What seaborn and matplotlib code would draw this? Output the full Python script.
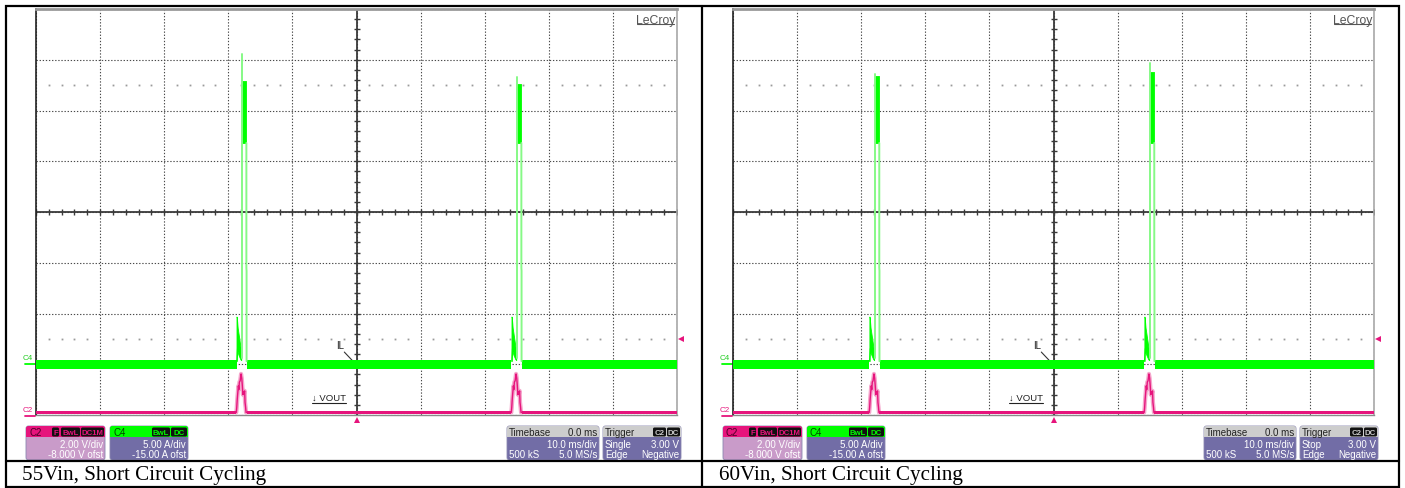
import numpy as np
import matplotlib
matplotlib.use("Agg")
import matplotlib.pyplot as plt
import matplotlib.transforms as mtransforms
from matplotlib.patches import FancyBboxPatch, Rectangle
import seaborn as sns

# ---------------- capture settings and trace values ----------------
captions = ["55Vin, Short Circuit Cycling", "60Vin, Short Circuit Cycling"]
trigger_modes = ["Single", "Stop"]

time_per_div = 10.0        # ms/div
il_per_div = 5.00          # C4, A/div
il_offset = -15.00         # C4, A
vout_per_div = 2.00        # C2, V/div
vout_offset = -8.000       # C2, V
trigger_level = 3.00       # C2, V (negative edge)
timebase_delay = "0.0 ms"
record_len = "500 kS"
sample_rate = "5.0 MS/s"

# rising edge of every hiccup pulse (ms), one list per capture
pulse_t0 = [[-17.9, 25.0], [-27.9, 15.0]]
# IL leading-edge spike and plateau top of every pulse (A)
il_peak = [[30.6, 28.3], [28.6, 29.7]]
il_top = [[27.9, 27.6], [28.4, 28.8]]
il_bottom = 21.8           # A, lower edge of the plateau

# IL floor between pulses (A, lower / upper edge of the noise band)
il_floor = (-0.42, 0.42)

# IL hump ahead of each pulse, times relative to the rising edge (ms, A)
hump_dt = [-0.82, -0.76, -0.64, -0.50, -0.36, -0.22, -0.08]
hump_lo = [0.3, 1.6, 1.2, 0.9, 0.7, 0.5, 0.4]
hump_hi = [4.7, 4.6, 3.6, 3.0, 2.4, 1.8, 1.2]

# IL plateau span and edges (ms relative to rising edge, A)
plat_dt = [0.02, 0.70]
rise_il_base = 0.6
fall_dt = [0.72, 0.72, 0.75, 0.75]
fall_il = [21.8, 9.5, 9.2, 0.3]
il_gap = (-0.82, 0.82)

# VOUT floor (V) and its bump around each pulse (ms relative to rising edge, V)
vout_floor = (0.03, 0.17)
vout_dt = [-0.85, -0.78, -0.70, -0.53, -0.45, -0.37, -0.25, -0.11, 0.00,
           0.09, 0.18, 0.25, 0.35, 0.45, 0.51, 0.60, 0.67, 0.75]
vout_v = [0.10, 0.30, 0.63, 1.15, 1.00, 1.30, 1.35, 1.62, 1.45,
          1.15, 0.80, 0.90, 0.85, 0.95, 0.50, 0.30, 0.10, 0.10]

# ---------------- styling ----------------
W, H = 1405, 489
GREEN = "#00ff00"
GREEN_EDGE = "#86f986"
MAGENTA = "#e6147c"
MAGENTA_HALO = "#f5a6cc"
GRID = "#4a4a4a"
BODY = "#726da6"
BODY_C2 = "#c99bc9"
HEAD_GRAY = "#cdcdcd"

sns.set_style("white")
plt.rcParams["font.family"] = ["Liberation Sans", "DejaVu Sans"]

fig = plt.figure(figsize=(W / 100, H / 100), dpi=100)
fig.patch.set_facecolor("white")


def rect_px(x0, y0, x1, y1):
    return [x0 / W, (H - y1) / H, (x1 - x0) / W, (y1 - y0) / H]


def draw_scope(rect, t0s, peaks, tops):
    ax = fig.add_axes(rect)
    ax2 = ax.twinx()

    x_half = 5 * time_per_div
    il_c = -il_offset
    v_c = -vout_offset
    ax.set_xlim(-x_half, x_half)
    ax.set_ylim(il_c - 4 * il_per_div, il_c + 4 * il_per_div)
    ax2.set_ylim(v_c - 4 * vout_per_div, v_c + 4 * vout_per_div)

    # graticule
    ax.set_xticks(np.arange(-x_half, x_half + 0.1, time_per_div))
    ax.set_yticks(np.arange(il_c - 4 * il_per_div, il_c + 4 * il_per_div + 0.1, il_per_div))
    ax.grid(True, color=GRID, lw=0.8, ls=(0, (1.2, 1.6)))
    ax.tick_params(length=0, labelbottom=False, labelleft=False)
    ax2.tick_params(length=0, labelright=False)
    ax2.grid(False)
    for s in ax2.spines.values():
        s.set_visible(False)
    ax.spines["left"].set(color="#222222", lw=1.2)
    ax.spines["top"].set(color="#9a9a9a", lw=2.0)
    ax.spines["right"].set(color="#a8a8a8", lw=1.2)
    ax.spines["bottom"].set(color="#8a8a8a", lw=1.0)

    ax.axhline(il_c, color="#3a3a3a", lw=1.3, zorder=1.5)
    ax.axvline(0, color="#3a3a3a", lw=1.3, zorder=1.5)
    sub_x = np.arange(-x_half, x_half + 0.1, time_per_div / 5)
    ax.plot(sub_x, np.full_like(sub_x, il_c), ls="none", marker="|", ms=5,
            mew=1.0, color="#3a3a3a", zorder=1.5)
    sub_y = np.arange(il_c - 4 * il_per_div, il_c + 4 * il_per_div + 0.01, il_per_div / 5)
    ax.plot(np.zeros_like(sub_y), sub_y, ls="none", marker="_", ms=5,
            mew=1.0, color="#3a3a3a", zorder=1.5)
    dots_x = np.array([x for x in sub_x if abs(x / time_per_div - round(x / time_per_div)) > 1e-6])
    for lvl in (il_c + 2.5 * il_per_div, il_c - 2.5 * il_per_div):
        ax.plot(dots_x, np.full_like(dots_x, lvl), ls="none", marker="s", ms=1.3,
                mew=0, color="#9a9a9a", zorder=1.5)

    # IL floor between pulses
    edges = [-x_half]
    for t0 in t0s:
        edges += [t0 + il_gap[0], t0 + il_gap[1]]
    edges.append(x_half)
    for a, b in zip(edges[::2], edges[1::2]):
        ax.fill_between([a, b], il_floor[0], il_floor[1], color=GREEN, lw=0, zorder=4)

    # IL pulses
    for t0, pk, top in zip(t0s, peaks, tops):
        ax.fill_between([t0 + d for d in hump_dt], hump_lo, hump_hi,
                        color=GREEN, lw=0.6, edgecolor=GREEN, zorder=4)
        ax.fill_between([t0 + plat_dt[0], t0 + plat_dt[1]], il_bottom, top,
                        color=GREEN, lw=0.6, edgecolor=GREEN, zorder=4)
        sns.lineplot(x=[t0, t0], y=[rise_il_base, pk], ax=ax, estimator=None,
                     sort=False, color=GREEN_EDGE, lw=1.4, zorder=4)
        sns.lineplot(x=[t0 + d for d in fall_dt], y=fall_il, ax=ax, estimator=None,
                     sort=False, color=GREEN_EDGE, lw=1.4, zorder=4)

    # VOUT floor and bumps
    vedges = [-x_half]
    for t0 in t0s:
        vedges += [t0 + vout_dt[0], t0 + vout_dt[-1]]
    vedges.append(x_half)
    for a, b in zip(vedges[::2], vedges[1::2]):
        ax2.fill_between([a, b], vout_floor[0], vout_floor[1], color=MAGENTA, lw=0, zorder=4)
    for t0 in t0s:
        tx = [t0 + d for d in vout_dt]
        sns.lineplot(x=tx, y=vout_v, ax=ax2, estimator=None, sort=False,
                     color=MAGENTA_HALO, lw=3.0, zorder=3)
        sns.lineplot(x=tx, y=vout_v, ax=ax2, estimator=None, sort=False,
                     color=MAGENTA, lw=1.0, zorder=4)

    ax.set_xlim(-x_half, x_half)
    ax.set_ylim(il_c - 4 * il_per_div, il_c + 4 * il_per_div)
    ax2.set_ylim(v_c - 4 * vout_per_div, v_c + 4 * vout_per_div)
    ax.set_xlabel("")
    ax.set_ylabel("")
    ax2.set_ylabel("")

    # channel zero markers at the left edge
    tr_il = mtransforms.blended_transform_factory(ax.transAxes, ax.transData)
    tr_v = mtransforms.blended_transform_factory(ax2.transAxes, ax2.transData)
    ax.plot([-0.017, -0.002], [0, 0], transform=tr_il, color=GREEN, lw=1.3, clip_on=False)
    ax.text(-0.0125, 0.65, "C4", transform=tr_il, ha="center", va="center",
            fontsize=5.8, color="#22cc22", clip_on=False, rotation=0)
    ax2.plot([-0.017, -0.002], [-0.04, -0.04], transform=tr_v, color=MAGENTA, lw=1.3, clip_on=False)
    ax2.text(-0.0125, 0.22, "C2", transform=tr_v, ha="center", va="center",
             fontsize=5.8, color=MAGENTA, clip_on=False, rotation=0)

    # trigger markers
    tr_x = mtransforms.blended_transform_factory(ax.transData, ax.transAxes)
    ax.plot([0], [-0.013], transform=tr_x, marker="^", ms=5, color=MAGENTA,
            mew=0, clip_on=False)
    ax2.plot([1.007], [trigger_level], transform=tr_v, marker="<", ms=5,
             color=MAGENTA, mew=0, clip_on=False)

    # trace labels
    ax.text(-2.6, 1.9, "IL", fontsize=7, color="#222222", ha="center", va="center")
    ax.plot([-1.9, -0.1], [1.2, 0.0], color="#333333", lw=0.8)
    ax2.text(-6.9, 0.69, "\u2193 VOUT", fontsize=6.8, color="#222222", ha="left", va="center")
    ax2.plot([-6.9, -1.7], [0.46, 0.46], color="#222222", lw=0.8)

    # logo
    ax.text(0.997, 0.988, "LeCroy", transform=ax.transAxes, ha="right", va="top",
            fontsize=8.8, color="#555555")
    ax.plot([0.937, 0.996], [0.962, 0.962], transform=ax.transAxes, color="#555555", lw=0.8)
    return ax


for i in range(2):
    dx = 697 * i
    draw_scope(rect_px(36 + dx, 10, 677 + dx, 416), pulse_t0[i], il_peak[i], il_top[i])

# ---------------- page frame, info panels and captions ----------------
cv = fig.add_axes([0, 0, 1, 1], zorder=10)
cv.set_xlim(0, W)
cv.set_ylim(H, 0)
cv.axis("off")
cv.patch.set_alpha(0)

cv.add_patch(Rectangle((5.5, 6.5), 1393.5, 481, fill=False, lw=1.6, ec="black"))
cv.plot([702, 702], [6.5, 487.5], color="black", lw=1.6)
cv.plot([5.5, 1399], [462, 462], color="black", lw=1.6)


def info_box(x0, x1, head_color, body_color):
    y0, y1 = 427, 461
    box = FancyBboxPatch((x0, y0), x1 - x0, y1 - y0,
                         boxstyle="round,pad=0,rounding_size=2.5",
                         fc=body_color, ec="#8a86b0", lw=0.6)
    cv.add_patch(box)
    head = Rectangle((x0, y0), x1 - x0, 11, fc=head_color, ec="none")
    cv.add_patch(head)
    head.set_clip_path(box)


def badge(x0, x1, text, fg):
    cv.add_patch(FancyBboxPatch((x0, 428.5), x1 - x0, 9,
                                boxstyle="round,pad=0,rounding_size=1.5",
                                fc="#111111", ec="none"))
    cv.text((x0 + x1) / 2, 433.2, text, ha="center", va="center",
            fontsize=5.6, color=fg, fontweight="bold")


def txt(x, y, s, ha="left", color="white", size=7.0):
    cv.text(x, y, s, ha=ha, va="center", fontsize=size, color=color)


for i in range(2):
    dx = 697 * i
    # C2 panel
    info_box(26 + dx, 105 + dx, MAGENTA, BODY_C2)
    txt(29 + dx, 432.8, "C2", color="#4a0026")
    badge(52 + dx, 59 + dx, "F", MAGENTA)
    badge(61 + dx, 80 + dx, "BwL", MAGENTA)
    badge(81 + dx, 104 + dx, "DC1M", MAGENTA)
    txt(103 + dx, 444.5, f"{vout_per_div:.2f} V/div", ha="right")
    txt(103 + dx, 455.5, f"{vout_offset:.3f} V ofst", ha="right")
    # C4 panel
    info_box(110 + dx, 188 + dx, GREEN, BODY)
    txt(113 + dx, 432.8, "C4", color="#004400")
    badge(152 + dx, 170 + dx, "BwL", GREEN)
    badge(171 + dx, 187 + dx, "DC", GREEN)
    txt(186 + dx, 444.5, f"{il_per_div:.2f} A/div", ha="right")
    txt(186 + dx, 455.5, f"{il_offset:.2f} A ofst", ha="right")
    # Timebase panel
    info_box(507 + dx, 599 + dx, HEAD_GRAY, BODY)
    txt(509 + dx, 432.8, "Timebase", color="#222222")
    txt(597 + dx, 432.8, timebase_delay, ha="right", color="#222222")
    txt(597 + dx, 444.5, f"{time_per_div:.1f} ms/div", ha="right")
    txt(509 + dx, 455.5, record_len)
    txt(597 + dx, 455.5, sample_rate, ha="right")
    # Trigger panel
    info_box(603 + dx, 681 + dx, HEAD_GRAY, BODY)
    txt(605 + dx, 432.8, "Trigger", color="#222222")
    badge(653 + dx, 666 + dx, "C2", HEAD_GRAY)
    badge(667 + dx, 680 + dx, "DC", HEAD_GRAY)
    txt(605 + dx, 444.5, trigger_modes[i])
    txt(679 + dx, 444.5, f"{trigger_level:.2f} V", ha="right")
    txt(605 + dx, 455.5, "Edge")
    txt(679 + dx, 455.5, "Negative", ha="right")
    # caption
    cv.text(22 + dx, 475.5, captions[i], ha="left", va="center", fontsize=15.2,
            family=["Liberation Serif", "DejaVu Serif"], color="black")

fig.savefig("out.png", dpi=100)
